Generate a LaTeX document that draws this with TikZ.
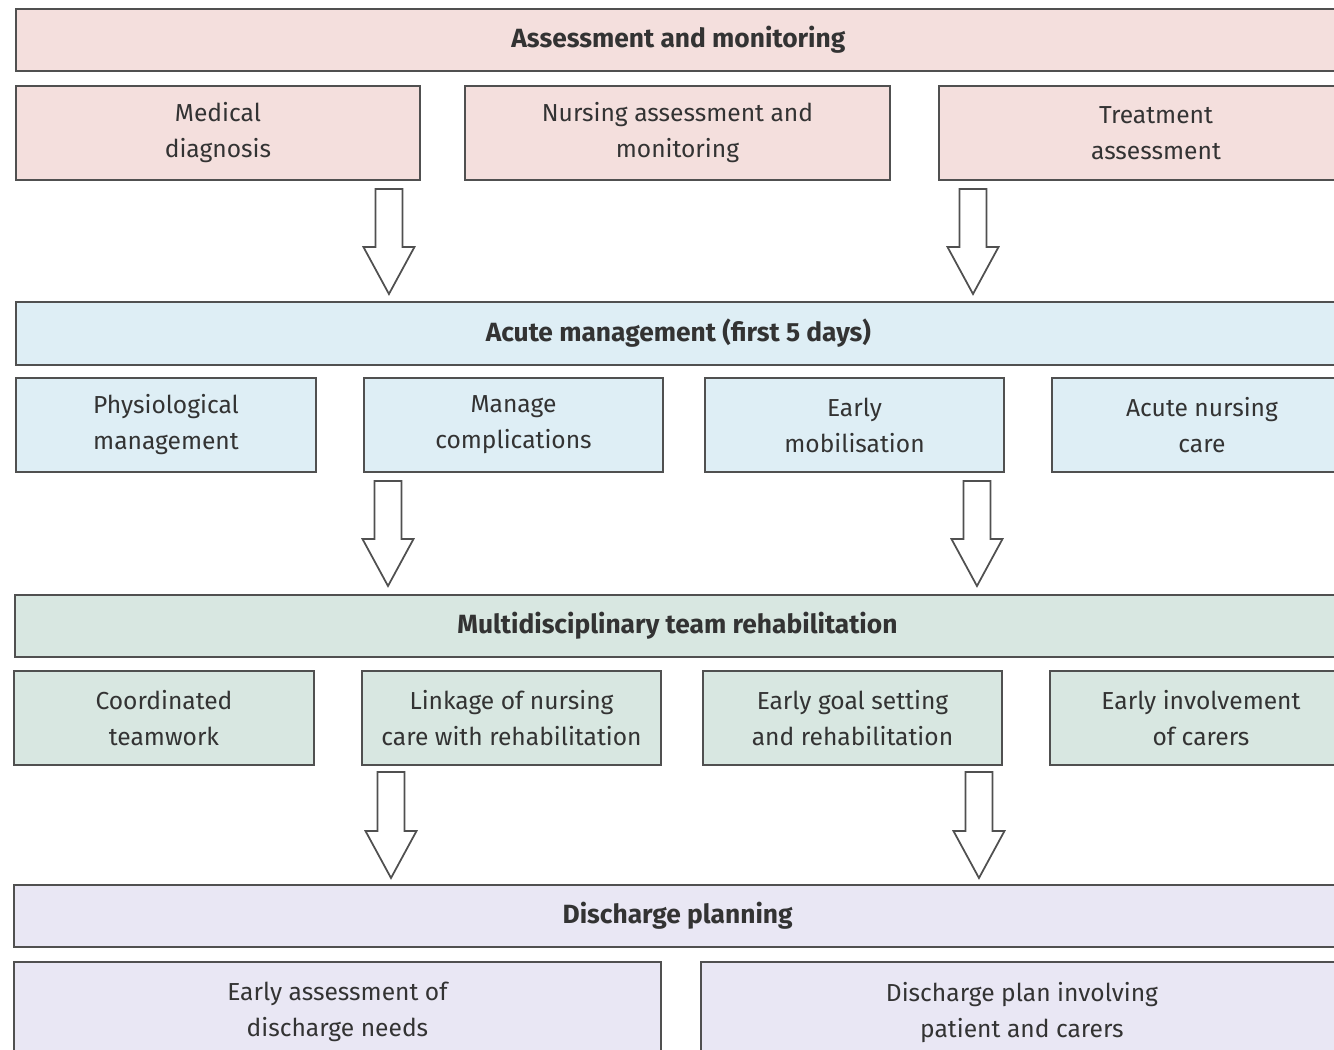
\documentclass[tikz,border=0pt]{standalone}
\usepackage{fontspec}
\setmainfont{Fira Sans}
\usepackage{xcolor}
\usetikzlibrary{positioning,calc}

\definecolor{pinkfill}{HTML}{F4DFDD}
\definecolor{bluefill}{HTML}{DEEEF5}
\definecolor{greenfill}{HTML}{D8E7E1}
\definecolor{lilacfill}{HTML}{E9E7F4}
\definecolor{boxline}{HTML}{505050}
\definecolor{textgray}{HTML}{333333}

\tikzset{
  box/.style={draw=boxline, line width=1.15pt, anchor=north west, align=center,
    text=textgray, inner sep=0pt, font=\fontsize{14}{20.5}\selectfont},
  headbox/.style={box, minimum height=1.24cm, minimum width=26.5cm,
    font=\fontsize{15}{20.5}\selectfont\bfseries},
  subbox/.style={box, minimum height=1.88cm},
  fatarrow/.style={draw=boxline, line width=1pt, fill=white, line join=miter},
}

% hollow block arrow from #1 (top of shaft) down to #2 (tip)
\newcommand{\blockarrow}[2]{%
  \draw[fatarrow] ($(#1)+(-13.5,0)$) -- ($(#2)+(-13.5,-47)$) -- ($(#2)+(-25.5,-47)$)
    -- (#2) -- ($(#2)+(25.5,-47)$) -- ($(#2)+(13.5,-47)$) -- ($(#1)+(13.5,0)$) -- cycle;}

\begin{document}
\begin{tikzpicture}[x=0.02cm, y=-0.02cm]
    \useasboundingbox (0,0) rectangle (1334,1049);
    \clip (0,0) rectangle (1334,1049);

    % Assessment
    \node[headbox, fill=pinkfill] (assess) at (15,8) {Assessment and monitoring};
    \node[subbox, fill=pinkfill, minimum width=8.08cm] (meddiag) at (15,85) {Medical\\diagnosis};
    \node[subbox, fill=pinkfill, minimum width=8.5cm] (nursing) at (464,85) {Nursing assessment and\\monitoring};
    \node[subbox, fill=pinkfill, minimum width=8.68cm] (treat) at (938,85) {Treatment\\assessment};

    % Acute management
    \node[headbox, fill=bluefill, minimum height=1.26cm] (acute) at (15,301) {Acute management (first 5 days)};
    \node[subbox, fill=bluefill, minimum width=6cm] (physio) at (15,377) {Physiological\\management};
    \node[subbox, fill=bluefill, minimum width=5.98cm] (compl) at (363,377) {Manage\\complications};
    \node[subbox, fill=bluefill, minimum width=5.98cm] (mobil) at (704,377) {Early\\mobilisation};
    \node[subbox, fill=bluefill, minimum width=6cm] (acnurse) at (1051,377) {Acute nursing\\care};

    % Rehabilitation
    \node[headbox, fill=greenfill] (rehab) at (14,594) {Multidisciplinary team rehabilitation};
    \node[subbox, fill=greenfill, minimum width=6cm] (teamwork) at (13,670) {Coordinated\\teamwork};
    \node[subbox, fill=greenfill, minimum width=5.98cm] (linkage) at (361,670) {Linkage of nursing\\care with rehabilitation};
    \node[subbox, fill=greenfill, minimum width=5.98cm] (goals) at (702,670) {Early goal setting\\and rehabilitation};
    \node[subbox, fill=greenfill, minimum width=6.04cm] (carers) at (1049,670) {Early involvement\\of carers};

    % Discharge
    \node[headbox, fill=lilacfill, minimum width=26.55cm] (discharge) at (13,884) {Discharge planning};
    \node[subbox, fill=lilacfill, minimum width=12.94cm, minimum height=2.2cm, text depth=0.3cm] (needs) at (13,961) {Early assessment of\\discharge needs};
    \node[subbox, fill=lilacfill, minimum width=12.84cm, minimum height=2.2cm, text depth=0.3cm] (dplan) at (700,961) {Discharge plan involving\\patient and carers};

    % Arrows
    \coordinate (a1) at ($(meddiag.south east)+(-32,8)$);
    \coordinate (b1) at ($(a1 |- acute.north)+(0,-7)$);
    \coordinate (a2) at ($(treat.south west)+(35,8)$);
    \coordinate (b2) at ($(a2 |- acute.north)+(0,-7)$);
    \coordinate (a3) at ($(compl.south west)+(25,8)$);
    \coordinate (b3) at ($(a3 |- rehab.north)+(0,-8)$);
    \coordinate (a4) at ($(mobil.south east)+(-28,8)$);
    \coordinate (b4) at ($(a4 |- rehab.north)+(0,-8)$);
    \coordinate (a5) at ($(linkage.south west)+(30,6)$);
    \coordinate (b5) at ($(a5 |- discharge.north)+(0,-6)$);
    \coordinate (a6) at ($(goals.south east)+(-24,6)$);
    \coordinate (b6) at ($(a6 |- discharge.north)+(0,-6)$);
    \blockarrow{a1}{b1}
    \blockarrow{a2}{b2}
    \blockarrow{a3}{b3}
    \blockarrow{a4}{b4}
    \blockarrow{a5}{b5}
    \blockarrow{a6}{b6}
\end{tikzpicture}
\end{document}
